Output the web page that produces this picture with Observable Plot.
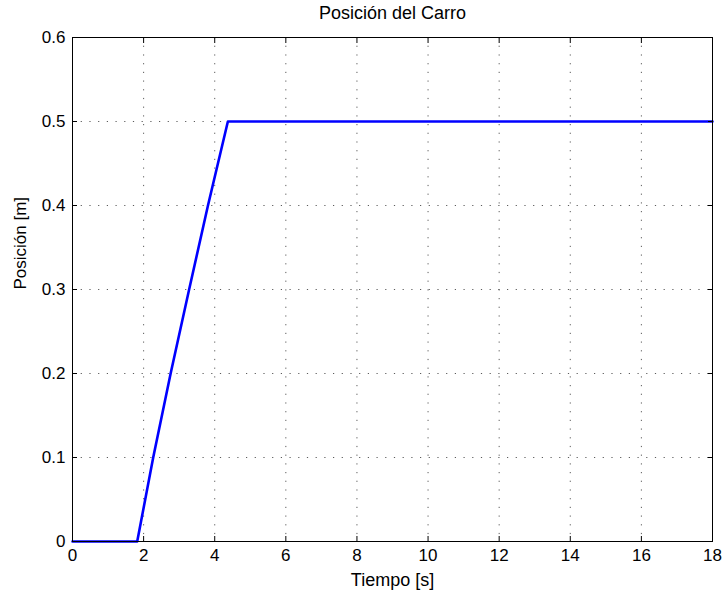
<!DOCTYPE html>
<html>
<head>
<meta charset="utf-8">
<script src="https://cdn.jsdelivr.net/npm/d3@7"></script>
<script src="https://cdn.jsdelivr.net/npm/@observablehq/plot@0.6"></script>
<style>
  html, body { margin: 0; padding: 0; background: #fff; }
</style>
</head>
<body>
<div id="chart"></div>
<script>
const title = "Posición del Carro";
const xLabel = "Tiempo [s]";
const yLabel = "Posición [m]";
const xTicks = [0, 2, 4, 6, 8, 10, 12, 14, 16, 18];
const yTicks = [0, 0.1, 0.2, 0.3, 0.4, 0.5, 0.6];
const time = [0, 1.82, 2.27, 2.76, 3.28, 3.81, 4.37, 18];
const position = [0, 0, 0.1, 0.2, 0.3, 0.4, 0.5, 0.5];

const data = time.map((t, i) => ({t, p: position[i]}));
const font = "Liberation Sans, Arial, Helvetica, sans-serif";

const chart = Plot.plot({
  width: 725,
  height: 596,
  marginLeft: 72,
  marginRight: 13,
  marginTop: 37,
  marginBottom: 55,
  style: {fontFamily: font, fontSize: "17px", color: "#000", background: "#fff"},
  x: {domain: [0, 18], ticks: xTicks},
  y: {domain: [0, 0.6], ticks: yTicks},
  marks: [
    Plot.gridX(xTicks, {stroke: "#333", strokeOpacity: 0.8, strokeDasharray: "1.2,7.5"}),
    Plot.gridY(yTicks, {stroke: "#333", strokeOpacity: 0.8, strokeDasharray: "1.2,7.5"}),
    Plot.line(data, {x: "t", y: "p", stroke: "#0000ff", strokeWidth: 2.6}),
    Plot.frame({stroke: "#000", strokeWidth: 1}),
    // inward ticks on all sides
    Plot.axisX(xTicks, {anchor: "bottom", tickSize: 5, dy: -5, tickFormat: () => "", label: null, stroke: "#000"}),
    Plot.axisX(xTicks, {anchor: "top", tickSize: 5, dy: 5, tickFormat: () => "", label: null, stroke: "#000"}),
    Plot.axisY(yTicks, {anchor: "left", tickSize: 5, dx: 5, tickFormat: () => "", label: null, stroke: "#000"}),
    Plot.axisY(yTicks, {anchor: "right", tickSize: 5, dx: -5, tickFormat: () => "", label: null, stroke: "#000"}),
    // tick labels
    Plot.axisX(xTicks, {anchor: "bottom", tickSize: 0, tickPadding: 7, label: null, fontSize: 17, tickFormat: d => String(d)}),
    Plot.axisY(yTicks, {anchor: "left", tickSize: 0, tickPadding: 7, label: null, fontSize: 17, tickFormat: d => String(d)}),
    Plot.text([title], {frameAnchor: "top", dy: -24, fontSize: 18, lineAnchor: "middle", fill: "#000"}),
    Plot.text([xLabel], {frameAnchor: "bottom", dy: 39, fontSize: 18, lineAnchor: "middle", fill: "#000"}),
    Plot.text([yLabel], {frameAnchor: "left", dx: -52, rotate: -90, fontSize: 17, lineAnchor: "middle", fill: "#000"})
  ]
});
document.getElementById("chart").appendChild(chart);
</script>
</body>
</html>
